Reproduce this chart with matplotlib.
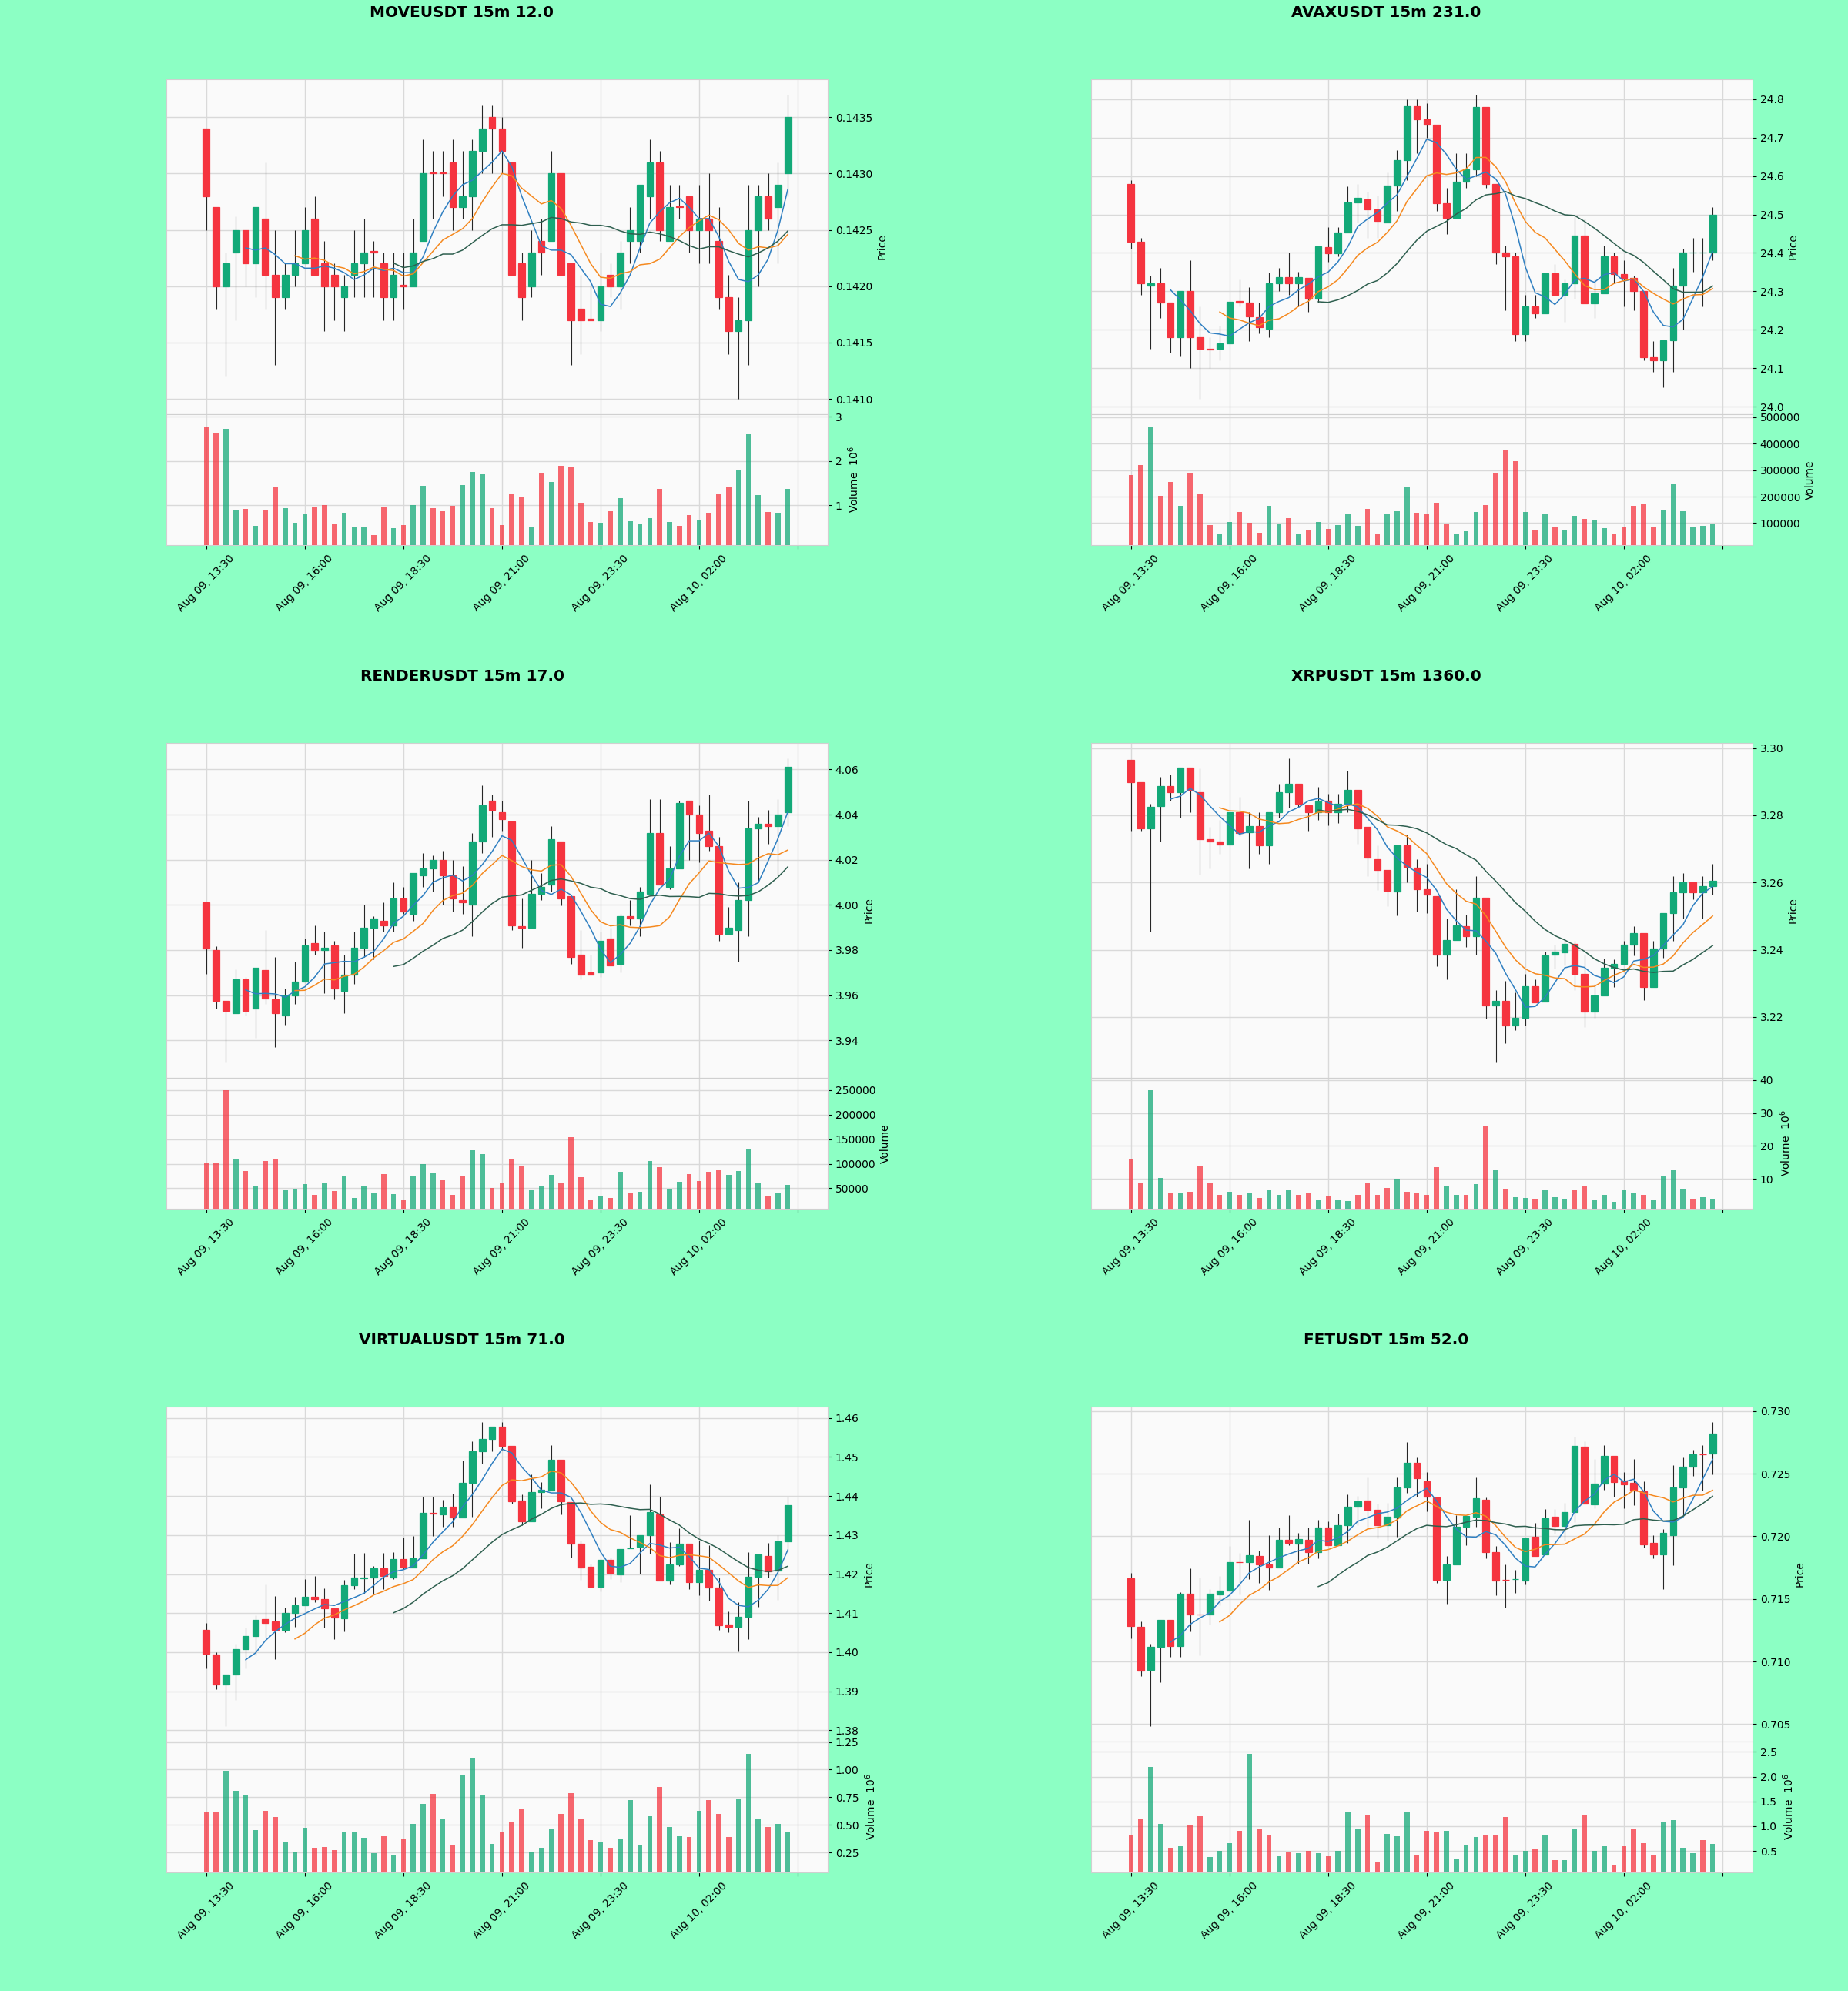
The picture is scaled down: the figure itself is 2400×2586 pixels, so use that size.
import numpy as np
import pandas as pd
import matplotlib
matplotlib.use("Agg")
import matplotlib.pyplot as plt
from matplotlib.ticker import MultipleLocator, FuncFormatter

# 15 minute candles, 60 per chart
times = pd.date_range("2025-08-09 13:30", periods=60, freq="15min")

# ---------------- MOVEUSDT ----------------
move_open = [0.1434, 0.1427, 0.1420, 0.1423, 0.1425, 0.1422, 0.1426, 0.1421, 0.1419, 0.1421,
             0.1422, 0.1426, 0.1422, 0.1421, 0.1419, 0.1421, 0.1422, 0.14231, 0.1422, 0.1419,
             0.14201, 0.1420, 0.1424, 0.14301, 0.14301, 0.1431, 0.1427, 0.1428, 0.1432, 0.1435,
             0.1434, 0.1431, 0.1422, 0.1420, 0.1424, 0.1424, 0.1430, 0.1422, 0.1418, 0.14171,
             0.1417, 0.1421, 0.1420, 0.1424, 0.1424, 0.1428, 0.1431, 0.1424, 0.14271, 0.1428,
             0.1425, 0.1426, 0.1424, 0.1419, 0.1416, 0.1417, 0.1425, 0.1428, 0.1427, 0.1430]
move_high = [0.1434, 0.1427, 0.1423, 0.14262, 0.1425, 0.1427, 0.1431, 0.1425, 0.1422, 0.1425,
             0.1427, 0.1428, 0.1424, 0.1422, 0.1421, 0.1425, 0.1426, 0.1424, 0.1423, 0.1423,
             0.1423, 0.1426, 0.1433, 0.1432, 0.1432, 0.1433, 0.1432, 0.1433, 0.1436, 0.1436,
             0.1435, 0.1431, 0.1423, 0.1425, 0.1426, 0.1432, 0.1430, 0.1422, 0.1421, 0.1420,
             0.1423, 0.1422, 0.1424, 0.1427, 0.1429, 0.1433, 0.1432, 0.1429, 0.1429, 0.1428,
             0.1429, 0.1430, 0.1427, 0.1421, 0.1419, 0.1429, 0.1429, 0.1430, 0.1431, 0.1437]
move_low = [0.1425, 0.1418, 0.1412, 0.1417, 0.1420, 0.1419, 0.1418, 0.1413, 0.1418, 0.1420,
            0.1422, 0.1421, 0.1416, 0.1417, 0.1416, 0.1419, 0.1419, 0.1419, 0.1417, 0.1417,
            0.1418, 0.1420, 0.1424, 0.1426, 0.1428, 0.1425, 0.1426, 0.1425, 0.1430, 0.1430,
            0.1430, 0.1421, 0.1417, 0.1419, 0.1421, 0.1424, 0.1421, 0.1413, 0.1414, 0.1417,
            0.1416, 0.1419, 0.1418, 0.1422, 0.1423, 0.1426, 0.1424, 0.1424, 0.1426, 0.1423,
            0.1422, 0.1422, 0.1418, 0.1414, 0.1410, 0.1413, 0.1420, 0.1425, 0.1422, 0.1428]
move_close = [0.1428, 0.1420, 0.1422, 0.1425, 0.1422, 0.1427, 0.1421, 0.1419, 0.1421, 0.1422,
              0.1425, 0.1421, 0.1420, 0.1420, 0.1420, 0.1422, 0.1423, 0.1423, 0.1419, 0.1421,
              0.1420, 0.1423, 0.1430, 0.1430, 0.1430, 0.1427, 0.1428, 0.1432, 0.1434, 0.1434,
              0.1432, 0.1421, 0.1419, 0.1423, 0.1423, 0.1430, 0.1421, 0.1417, 0.1417, 0.1417,
              0.1420, 0.1420, 0.1423, 0.1425, 0.1429, 0.1431, 0.1425, 0.1427, 0.1427, 0.1425,
              0.1426, 0.1425, 0.1419, 0.1416, 0.1417, 0.1425, 0.1428, 0.1426, 0.1429, 0.1435]
move_vol = [2.78, 2.62, 2.72, 0.90, 0.92, 0.53, 0.88, 1.42, 0.94, 0.60,
            0.81, 0.97, 1.00, 0.58, 0.83, 0.50, 0.51, 0.32, 0.97, 0.48,
            0.55, 1.00, 1.43, 0.94, 0.87, 0.99, 1.46, 1.75, 1.70, 0.94,
            0.55, 1.24, 1.18, 0.51, 1.73, 1.52, 1.89, 1.88, 1.06, 0.62,
            0.60, 0.87, 1.16, 0.64, 0.58, 0.71, 1.36, 0.62, 0.53, 0.78,
            0.67, 0.83, 1.26, 1.42, 1.81, 2.60, 1.22, 0.85, 0.82, 1.37]   # x 10^6

# ---------------- AVAXUSDT ----------------
avax_open = [24.58, 24.43, 24.315, 24.32, 24.27, 24.18, 24.30, 24.18, 24.15, 24.15,
             24.165, 24.275, 24.27, 24.233, 24.202, 24.32, 24.337, 24.32, 24.334, 24.28,
             24.416, 24.398, 24.454, 24.532, 24.54, 24.513, 24.48, 24.576, 24.642, 24.781,
             24.747, 24.734, 24.529, 24.491, 24.586, 24.617, 24.779, 24.58, 24.40, 24.39,
             24.188, 24.261, 24.243, 24.347, 24.29, 24.32, 24.445, 24.269, 24.294, 24.39,
             24.345, 24.335, 24.30, 24.129, 24.121, 24.172, 24.315, 24.40, 24.40, 24.40]
avax_high = [24.59, 24.44, 24.34, 24.36, 24.27, 24.30, 24.38, 24.26, 24.18, 24.21,
             24.273, 24.33, 24.31, 24.27, 24.349, 24.36, 24.40, 24.35, 24.334, 24.42,
             24.467, 24.467, 24.574, 24.58, 24.56, 24.55, 24.609, 24.668, 24.80, 24.80,
             24.79, 24.734, 24.57, 24.66, 24.66, 24.812, 24.779, 24.58, 24.42, 24.40,
             24.29, 24.29, 24.347, 24.37, 24.33, 24.50, 24.49, 24.33, 24.42, 24.40,
             24.38, 24.34, 24.30, 24.17, 24.172, 24.36, 24.41, 24.44, 24.44, 24.52]
avax_low = [24.41, 24.29, 24.15, 24.23, 24.14, 24.13, 24.10, 24.02, 24.10, 24.12,
            24.165, 24.26, 24.17, 24.19, 24.18, 24.30, 24.29, 24.26, 24.247, 24.27,
            24.377, 24.39, 24.454, 24.48, 24.44, 24.44, 24.479, 24.51, 24.59, 24.66,
            24.70, 24.51, 24.45, 24.491, 24.57, 24.60, 24.57, 24.37, 24.25, 24.17,
            24.17, 24.23, 24.243, 24.29, 24.22, 24.28, 24.269, 24.23, 24.294, 24.32,
            24.26, 24.25, 24.12, 24.09, 24.05, 24.09, 24.20, 24.35, 24.26, 24.38]
avax_close = [24.43, 24.32, 24.32, 24.27, 24.18, 24.30, 24.18, 24.15, 24.149, 24.165,
              24.273, 24.27, 24.235, 24.206, 24.32, 24.337, 24.32, 24.337, 24.28, 24.416,
              24.398, 24.454, 24.532, 24.544, 24.513, 24.483, 24.576, 24.642, 24.781, 24.747,
              24.734, 24.529, 24.491, 24.586, 24.617, 24.779, 24.58, 24.40, 24.39, 24.188,
              24.261, 24.243, 24.347, 24.29, 24.32, 24.445, 24.269, 24.294, 24.39, 24.345,
              24.335, 24.30, 24.129, 24.121, 24.172, 24.315, 24.40, 24.40, 24.40, 24.50]
avax_vol = [281000, 320000, 465000, 202000, 255000, 164000, 289000, 211000, 92000, 60000,
            104000, 143000, 102000, 63000, 164000, 98000, 119000, 60000, 74000, 104000,
            77000, 93000, 137000, 90000, 155000, 60000, 133000, 146000, 235000, 139000,
            135000, 176000, 99000, 57000, 68000, 143000, 169000, 290000, 375000, 334000,
            143000, 74000, 137000, 87000, 76000, 129000, 116000, 110000, 80000, 60000,
            87000, 166000, 172000, 87000, 152000, 246000, 146000, 86000, 91000, 98000]

# ---------------- RENDERUSDT ----------------
render_open = [4.0012, 3.980, 3.9576, 3.9521, 3.967, 3.954, 3.971, 3.958, 3.951, 3.960,
               3.966, 3.983, 3.980, 3.982, 3.962, 3.969, 3.981, 3.990, 3.993, 3.991,
               4.003, 3.996, 4.013, 4.016, 4.020, 4.013, 4.002, 4.000, 4.028, 4.046,
               4.041, 4.037, 3.9905, 3.990, 4.005, 4.009, 4.028, 4.004, 3.978, 3.970,
               3.970, 3.985, 3.974, 3.995, 3.994, 4.005, 4.032, 4.008, 4.016, 4.046,
               4.040, 4.033, 4.026, 3.987, 3.989, 4.002, 4.034, 4.036, 4.035, 4.041]
render_high = [4.0012, 3.9818, 3.9576, 3.9716, 3.968, 3.9722, 3.9888, 3.977, 3.963, 3.975,
               3.985, 3.991, 3.988, 3.984, 3.978, 3.988, 4.000, 3.995, 4.001, 4.010,
               4.008, 4.014, 4.023, 4.022, 4.024, 4.020, 4.017, 4.032, 4.053, 4.049,
               4.046, 4.037, 4.003, 4.020, 4.014, 4.035, 4.028, 4.004, 3.989, 3.978,
               3.988, 3.990, 3.996, 4.002, 4.008, 4.047, 4.047, 4.026, 4.046, 4.046,
               4.044, 4.049, 4.030, 3.999, 4.010, 4.046, 4.039, 4.042, 4.047, 4.065]
render_low = [3.9695, 3.9539, 3.9301, 3.9521, 3.951, 3.9412, 3.956, 3.937, 3.947, 3.956,
              3.966, 3.978, 3.961, 3.958, 3.952, 3.965, 3.977, 3.976, 3.988, 3.988,
              3.996, 3.993, 4.008, 4.006, 4.000, 3.997, 3.996, 3.986, 4.023, 4.030,
              4.033, 3.989, 3.981, 3.990, 4.002, 4.006, 3.9997, 3.974, 3.967, 3.969,
              3.968, 3.973, 3.970, 3.991, 3.986, 4.005, 4.009, 4.007, 4.016, 4.020,
              4.019, 4.024, 3.984, 3.987, 3.975, 3.986, 4.010, 4.027, 4.013, 4.035]
render_close = [3.9808, 3.9576, 3.9532, 3.9671, 3.953, 3.9722, 3.9584, 3.952, 3.960, 3.966,
                3.982, 3.980, 3.981, 3.963, 3.969, 3.981, 3.990, 3.994, 3.991, 4.003,
                3.997, 4.014, 4.016, 4.020, 4.013, 4.003, 4.001, 4.028, 4.044, 4.042,
                4.038, 3.991, 3.990, 4.005, 4.008, 4.029, 4.003, 3.977, 3.969, 3.969,
                3.984, 3.973, 3.995, 3.994, 4.006, 4.032, 4.009, 4.016, 4.045, 4.040,
                4.032, 4.026, 3.987, 3.990, 4.002, 4.034, 4.036, 4.035, 4.040, 4.061]
render_vol = [101600, 101600, 250000, 111000, 85700, 53800, 106000, 111000, 46000, 49000,
              59000, 37000, 61000, 44000, 75000, 30000, 56000, 42000, 79000, 38000,
              28000, 74000, 100000, 81000, 68000, 37000, 76000, 128000, 119000, 51000,
              60000, 111000, 94000, 46000, 55000, 78000, 60000, 155000, 72000, 28000,
              33000, 30000, 84000, 39000, 43000, 105000, 93000, 49000, 63000, 79000,
              65000, 84000, 88000, 78000, 86000, 129000, 61000, 35000, 42000, 57000]

# ---------------- XRPUSDT ----------------
xrp_open = [3.2966, 3.2899, 3.2760, 3.2828, 3.2887, 3.2869, 3.2943, 3.2869, 3.2728, 3.2721,
            3.2713, 3.2808, 3.2750, 3.2768, 3.2711, 3.2809, 3.2869, 3.2895, 3.2830, 3.2808,
            3.2844, 3.2808, 3.2835, 3.2876, 3.2766, 3.2670, 3.2638, 3.2574, 3.2711, 3.2645,
            3.2579, 3.2560, 3.2386, 3.2429, 3.2471, 3.2441, 3.2554, 3.2235, 3.2247, 3.2175,
            3.2198, 3.2292, 3.2246, 3.2386, 3.2393, 3.2418, 3.2327, 3.2215, 3.2264, 3.2347,
            3.2357, 3.2414, 3.2450, 3.2288, 3.2404, 3.2508, 3.2571, 3.2601, 3.2571, 3.2590]
xrp_high = [3.2966, 3.2899, 3.2835, 3.2915, 3.2922, 3.2943, 3.2943, 3.2940, 3.2766, 3.2787,
            3.2808, 3.2856, 3.2808, 3.2808, 3.2809, 3.2895, 3.2970, 3.2895, 3.2830, 3.2885,
            3.2863, 3.2863, 3.2933, 3.2876, 3.2766, 3.2711, 3.2638, 3.2711, 3.2743, 3.2670,
            3.2656, 3.2560, 3.2492, 3.2581, 3.2505, 3.2618, 3.2554, 3.2281, 3.2308, 3.2272,
            3.2327, 3.2313, 3.2395, 3.2414, 3.2432, 3.2427, 3.2386, 3.2299, 3.2374, 3.2371,
            3.2426, 3.2471, 3.2450, 3.2427, 3.2508, 3.2618, 3.2629, 3.2601, 3.2618, 3.2656]
xrp_low = [3.2753, 3.2755, 3.2453, 3.2722, 3.2844, 3.2794, 3.2808, 3.2624, 3.2643, 3.2686,
           3.2713, 3.2739, 3.2643, 3.2686, 3.2656, 3.2794, 3.2823, 3.2823, 3.2753, 3.2787,
           3.2771, 3.2776, 3.2808, 3.2716, 3.2620, 3.2577, 3.2530, 3.2501, 3.2601, 3.2514,
           3.2510, 3.2350, 3.2313, 3.2429, 3.2409, 3.2386, 3.2194, 3.2064, 3.2122, 3.2160,
           3.2175, 3.2244, 3.2246, 3.2343, 3.2354, 3.2279, 3.2171, 3.2198, 3.2264, 3.2288,
           3.2357, 3.2382, 3.2251, 3.2288, 3.2377, 3.2427, 3.2492, 3.2551, 3.2492, 3.2563]
xrp_close = [3.2899, 3.2760, 3.2826, 3.2887, 3.2869, 3.2943, 3.2876, 3.2730, 3.2721, 3.2713,
             3.2808, 3.2748, 3.2768, 3.2711, 3.2809, 3.2869, 3.2895, 3.2835, 3.2808, 3.2844,
             3.2808, 3.2835, 3.2876, 3.2762, 3.2675, 3.2638, 3.2576, 3.2711, 3.2647, 3.2579,
             3.2563, 3.2386, 3.2429, 3.2473, 3.2441, 3.2554, 3.2233, 3.2247, 3.2175, 3.2198,
             3.2292, 3.2244, 3.2383, 3.2394, 3.2418, 3.2327, 3.2215, 3.2264, 3.2347, 3.2357,
             3.2414, 3.2450, 3.2288, 3.2404, 3.2508, 3.2571, 3.2601, 3.2571, 3.2590, 3.2606]
xrp_vol = [15.9, 8.5, 37.0, 10.2, 5.7, 5.7, 6.1, 14.0, 8.8, 5.0,
           6.1, 5.2, 5.7, 4.2, 6.4, 5.0, 6.4, 5.2, 5.6, 3.5,
           4.8, 3.7, 3.3, 5.0, 8.8, 5.2, 7.3, 10.0, 6.1, 5.7,
           5.0, 13.5, 7.6, 5.2, 5.0, 8.3, 26.1, 12.6, 7.0, 4.5,
           4.2, 3.8, 6.7, 4.5, 3.8, 6.7, 7.8, 3.7, 5.2, 2.9,
           6.4, 5.6, 5.1, 3.7, 10.7, 12.6, 7.0, 3.8, 4.5, 3.8]   # x 10^6

# ---------------- VIRTUALUSDT ----------------
virtual_open = [1.4057, 1.3993, 1.3917, 1.3942, 1.4007, 1.4041, 1.4084, 1.4078, 1.4057, 1.4100,
                1.4120, 1.4142, 1.4136, 1.4112, 1.4086, 1.4171, 1.4190, 1.4191, 1.4215, 1.4191,
                1.4238, 1.4217, 1.4241, 1.4356, 1.4353, 1.4373, 1.4345, 1.4433, 1.4515, 1.4546,
                1.4578, 1.4528, 1.4388, 1.4335, 1.4410, 1.4414, 1.4493, 1.4384, 1.4278, 1.4218,
                1.4167, 1.4236, 1.4199, 1.4266, 1.4270, 1.4300, 1.4353, 1.4183, 1.4225, 1.4278,
                1.4179, 1.4211, 1.4166, 1.4071, 1.4064, 1.4090, 1.4193, 1.4246, 1.4209, 1.4283]
virtual_high = [1.4075, 1.3999, 1.3942, 1.4021, 1.4062, 1.4094, 1.4173, 1.4143, 1.4114, 1.4141,
                1.4187, 1.4196, 1.4163, 1.4112, 1.4185, 1.4252, 1.4254, 1.4220, 1.4254, 1.4256,
                1.4294, 1.4297, 1.4399, 1.4399, 1.4391, 1.4406, 1.4491, 1.4541, 1.4590, 1.4578,
                1.4590, 1.4528, 1.4404, 1.4455, 1.4436, 1.4530, 1.4493, 1.4384, 1.4286, 1.4226,
                1.4236, 1.4242, 1.4264, 1.4351, 1.4300, 1.4430, 1.4399, 1.4282, 1.4317, 1.4278,
                1.4286, 1.4274, 1.4191, 1.4104, 1.4128, 1.4256, 1.4250, 1.4280, 1.4299, 1.4399]
virtual_low = [1.3958, 1.3906, 1.3810, 1.3877, 1.3959, 1.3991, 1.4038, 1.3983, 1.4051, 1.4064,
               1.4120, 1.4128, 1.4062, 1.4033, 1.4054, 1.4162, 1.4149, 1.4147, 1.4162, 1.4188,
               1.4212, 1.4217, 1.4241, 1.4297, 1.4321, 1.4321, 1.4345, 1.4346, 1.4483, 1.4515,
               1.4518, 1.4380, 1.4325, 1.4335, 1.4369, 1.4414, 1.4353, 1.4242, 1.4185, 1.4167,
               1.4155, 1.4188, 1.4179, 1.4267, 1.4201, 1.4252, 1.4183, 1.4173, 1.4220, 1.4162,
               1.4146, 1.4132, 1.4057, 1.4051, 1.4001, 1.4033, 1.4117, 1.4191, 1.4133, 1.4258]
virtual_close = [1.3996, 1.3917, 1.3942, 1.4007, 1.4041, 1.4083, 1.4075, 1.4057, 1.4100, 1.4120,
                 1.4141, 1.4136, 1.4113, 1.4088, 1.4171, 1.4191, 1.4191, 1.4215, 1.4195, 1.4238,
                 1.4217, 1.4241, 1.4357, 1.4355, 1.4371, 1.4345, 1.4433, 1.4515, 1.4546, 1.4578,
                 1.4528, 1.4386, 1.4335, 1.4410, 1.4416, 1.4493, 1.4386, 1.4278, 1.4217, 1.4167,
                 1.4236, 1.4203, 1.4264, 1.4267, 1.4300, 1.4359, 1.4183, 1.4225, 1.4278, 1.4179,
                 1.4211, 1.4166, 1.4068, 1.4064, 1.4090, 1.4193, 1.4250, 1.4207, 1.4283, 1.4376]
virtual_vol = [0.62, 0.61, 0.99, 0.81, 0.77, 0.45, 0.63, 0.57, 0.34, 0.25,
               0.47, 0.29, 0.30, 0.27, 0.44, 0.44, 0.38, 0.24, 0.40, 0.23,
               0.37, 0.51, 0.69, 0.78, 0.55, 0.32, 0.95, 1.10, 0.77, 0.33,
               0.44, 0.53, 0.65, 0.25, 0.29, 0.46, 0.60, 0.79, 0.56, 0.36,
               0.34, 0.29, 0.37, 0.725, 0.32, 0.58, 0.84, 0.48, 0.40, 0.39,
               0.625, 0.725, 0.60, 0.39, 0.74, 1.14, 0.56, 0.48, 0.51, 0.44]   # x 10^6

# ---------------- FETUSDT ----------------
fet_open = [0.71665, 0.71276, 0.70936, 0.71116, 0.71333, 0.71121, 0.71542, 0.71375, 0.71374, 0.71535,
            0.71566, 0.71794, 0.71793, 0.71842, 0.71776, 0.71751, 0.71973, 0.71941, 0.71973, 0.71874,
            0.72071, 0.71929, 0.72089, 0.72236, 0.72286, 0.72212, 0.72089, 0.72150, 0.72392, 0.72586,
            0.72441, 0.72310, 0.71653, 0.71776, 0.72076, 0.72155, 0.72293, 0.71874, 0.71651, 0.71657,
            0.71645, 0.71998, 0.71855, 0.72158, 0.72081, 0.72195, 0.72717, 0.72254, 0.72421, 0.72643,
            0.72446, 0.72426, 0.72360, 0.71948, 0.71855, 0.72007, 0.72389, 0.72557, 0.72656, 0.72663]
fet_high = [0.71707, 0.71318, 0.71140, 0.71333, 0.71333, 0.71554, 0.71744, 0.71670, 0.71579, 0.71682,
            0.71924, 0.71867, 0.72131, 0.71884, 0.72007, 0.72071, 0.72170, 0.72027, 0.72071, 0.72131,
            0.72121, 0.72180, 0.72335, 0.72323, 0.72470, 0.72261, 0.72268, 0.72470, 0.72754, 0.72631,
            0.72515, 0.72310, 0.71842, 0.72170, 0.72163, 0.72470, 0.72310, 0.71924, 0.71776, 0.71732,
            0.71983, 0.72106, 0.72219, 0.72219, 0.72268, 0.72796, 0.72761, 0.72618, 0.72729, 0.72643,
            0.72515, 0.72618, 0.72441, 0.72007, 0.72057, 0.72569, 0.72631, 0.72692, 0.72729, 0.72914]
fet_low = [0.71185, 0.70882, 0.70483, 0.70833, 0.71037, 0.71037, 0.71239, 0.71047, 0.71293, 0.71448,
           0.71566, 0.71534, 0.71658, 0.71628, 0.71571, 0.71751, 0.71929, 0.71781, 0.71781, 0.71825,
           0.71929, 0.71929, 0.71948, 0.72089, 0.72076, 0.71983, 0.71966, 0.71998, 0.72347, 0.72318,
           0.72200, 0.71628, 0.71461, 0.71776, 0.71929, 0.72076, 0.71825, 0.71530, 0.71431, 0.71547,
           0.71613, 0.71842, 0.71855, 0.72022, 0.71966, 0.72113, 0.72261, 0.72224, 0.72372, 0.72318,
           0.72224, 0.72249, 0.71909, 0.71825, 0.71579, 0.71768, 0.72163, 0.72483, 0.72367, 0.72495]
fet_close = [0.71283, 0.70924, 0.71116, 0.71333, 0.71121, 0.71542, 0.71374, 0.71374, 0.71542, 0.71566,
             0.71793, 0.71793, 0.71850, 0.71776, 0.71751, 0.71973, 0.71946, 0.71978, 0.71874, 0.72071,
             0.71929, 0.72089, 0.72236, 0.72278, 0.72212, 0.72089, 0.72155, 0.72392, 0.72586, 0.72466,
             0.72318, 0.71653, 0.71776, 0.72076, 0.72163, 0.72303, 0.71874, 0.71645, 0.71650, 0.71658,
             0.71983, 0.71842, 0.72145, 0.72081, 0.72195, 0.72722, 0.72261, 0.72421, 0.72643, 0.72433,
             0.72416, 0.72367, 0.71934, 0.71855, 0.72027, 0.72389, 0.72557, 0.72655, 0.72655, 0.72820]
fet_vol = [0.83, 1.15, 2.20, 1.05, 0.57, 0.59, 1.03, 1.20, 0.38, 0.51,
           0.66, 0.91, 2.46, 0.96, 0.83, 0.40, 0.48, 0.45, 0.50, 0.45,
           0.40, 0.50, 1.28, 0.94, 1.24, 0.27, 0.85, 0.80, 1.29, 0.41,
           0.90, 0.88, 0.90, 0.35, 0.61, 0.78, 0.82, 0.82, 1.18, 0.43,
           0.51, 0.53, 0.82, 0.32, 0.32, 0.96, 1.22, 0.51, 0.59, 0.23,
           0.59, 0.94, 0.66, 0.43, 1.07, 1.12, 0.57, 0.46, 0.72, 0.64]   # x 10^6

titles = ["MOVEUSDT 15m 12.0", "AVAXUSDT 15m 231.0", "RENDERUSDT 15m 17.0",
          "XRPUSDT 15m 1360.0", "VIRTUALUSDT 15m 71.0", "FETUSDT 15m 52.0"]
ohlcv = [
    (move_open, move_high, move_low, move_close, move_vol),
    (avax_open, avax_high, avax_low, avax_close, avax_vol),
    (render_open, render_high, render_low, render_close, render_vol),
    (xrp_open, xrp_high, xrp_low, xrp_close, xrp_vol),
    (virtual_open, virtual_high, virtual_low, virtual_close, virtual_vol),
    (fet_open, fet_high, fet_low, fet_close, fet_vol),
]
vol_in_millions = [True, False, False, True, True, True]
vol_steps = [1, 100000, 50000, 10, 0.25, 0.5]
mav_periods = [5, 10, 20]

UP = "#13a978"
DOWN = "#f5343f"
MA_COLORS = ["#2f7fc1", "#f5891f", "#2e5f4f"]
BG = "#8cffc4"

W, H = 2400, 2586
fig = plt.figure(figsize=(W / 100, H / 100), dpi=100, facecolor=BG)
cell_h = H / 3
col_x = [216, 1417]
ax_w = 859


def date_label(v, pos):
    i = int(round(v))
    if 0 <= i < len(times):
        return times[i].strftime("%b %d, %H:%M")
    return ""


for k, (title, data) in enumerate(zip(titles, ohlcv)):
    r, c = divmod(k, 2)
    top = r * cell_h
    o, h, l, cl, v = [np.array(a, dtype=float) for a in data]
    x = np.arange(len(o))
    up = cl >= o
    colors = np.where(up, UP, DOWN)

    ax_p = fig.add_axes([col_x[c] / W, 1 - (top + 538) / H, ax_w / W, 435 / H])
    ax_v = fig.add_axes([col_x[c] / W, 1 - (top + 708) / H, ax_w / W, 170 / H], sharex=ax_p)

    fig.text(0.25 + 0.5 * c, 1 - (top + 17) / H, title, ha="center", va="center",
             fontsize=14.4, fontweight="bold")

    # candles
    ax_p.vlines(x, l, h, color="#262626", lw=0.8, zorder=2)
    ax_p.bar(x, cl - o, bottom=o, width=0.68, color=colors, edgecolor=colors,
             lw=0.9, zorder=3)
    close_s = pd.Series(cl)
    for per, mc in zip(mav_periods, MA_COLORS):
        ax_p.plot(x, close_s.rolling(per).mean(), color=mc, lw=1.1, zorder=4)

    rng = h.max() - l.min()
    ax_p.set_ylim(l.min() - 0.05 * rng, h.max() + 0.05 * rng)
    ax_p.set_xlim(-1 - 0.05 * 61, 60 + 0.05 * 61)
    ax_p.set_ylabel("Price", fontsize=10)

    # volume
    ax_v.bar(x, v, width=0.52, color=colors, alpha=0.75, zorder=3)
    ax_v.set_ylim(0.3 * v.min(), 1.1 * v.max())
    ax_v.yaxis.set_major_locator(MultipleLocator(vol_steps[k]))
    ax_v.set_ylabel("Volume  $10^{6}$" if vol_in_millions[k] else "Volume", fontsize=10)

    for ax in (ax_p, ax_v):
        ax.set_facecolor("#fafafa")
        ax.grid(True, color="#d9d9d9", lw=1.0)
        ax.set_axisbelow(True)
        ax.yaxis.tick_right()
        ax.yaxis.set_label_position("right")
        ax.tick_params(labelsize=10)
        for s in ax.spines.values():
            s.set_color("#d0d0d0")
            s.set_linewidth(0.8)
    ax_p.xaxis.set_major_locator(MultipleLocator(10))
    ax_p.tick_params(axis="x", labelbottom=False, length=0)
    ax_v.xaxis.set_major_formatter(FuncFormatter(date_label))
    ax_v.tick_params(axis="x", labelrotation=45)

fig.savefig("out.png", dpi=100, facecolor=BG)
